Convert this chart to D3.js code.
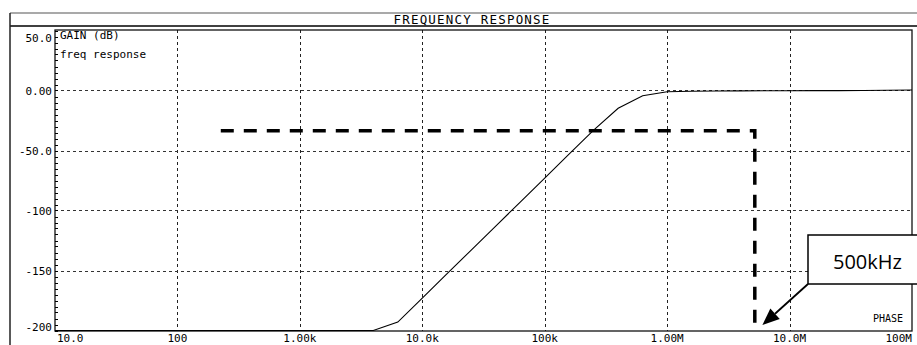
<!DOCTYPE html>
<html>
<head>
<meta charset="utf-8">
<script src="https://cdn.jsdelivr.net/npm/d3@7"></script>
<style>
  html, body { margin: 0; padding: 0; background: #fff; }
  svg { display: block; }
  .mono { font-family: "DejaVu Sans Mono", monospace; fill: #000; }
</style>
</head>
<body>
<div id="chart"></div>
<script>
// data (freq in Hz, gain in dB)
let freqs = [10, 15.8, 25.1, 39.8, 63.1, 100, 158, 251, 398, 631,
    1e3, 1.58e3, 2.51e3, 3.98e3, 6.31e3, 1e4, 1.58e4, 2.51e4, 3.98e4, 6.31e4,
    1e5, 1.58e5, 2.51e5, 3.98e5, 6.31e5, 1e6, 1.58e6, 2.51e6, 3.98e6, 6.31e6,
    1e7, 1.58e7, 2.51e7, 3.98e7, 6.31e7, 1e8];
let gains = [-200, -200, -200, -200, -200, -200, -200, -200, -200, -200,
    -200, -200, -200, -200, -193, -173, -153, -133, -113, -93,
    -73, -53, -33, -14.8, -4.3, -1.0, -0.6, -0.4, -0.3, -0.2,
    -0.2, -0.1, -0.1, 0, 0.2, 0.4];

let xTickVals = [10, 100, 1e3, 1e4, 1e5, 1e6, 1e7, 1e8];
let xTickLabels = ["10.0", "100", "1.00k", "10.0k", "100k", "1.00M", "10.0M", "100M"];
let yTickVals = [50, 0, -50, -100, -150, -200];
let yTickLabels = ["50.0", "0.00", "-50.0", "-100", "-150", "-200"];

// hand-drawn marker: dashed level line, then down to the axis
let markerFreqs = [226, 5.2e6, 5.2e6];
let markerGains = [-33.5, -33.5, -196];
let calloutText = "500kHz";
let calloutTip = [6.0e6, -195.5];

let width = 917, height = 345;
let plotL = 55, plotR = 912, plotT = 30, plotB = 331;

let svg = d3.select('#chart')
    .append('svg')
    .attr('width', width)
    .attr('height', height);

let x = d3.scaleLog().domain([10, 1e8]).range([plotL, plotR]);
let y = d3.scaleLinear().domain([-200, 50]).range([330.5, 30.5]);

// outer frame + title bar
svg.append('line')
    .attr('x1', 10).attr('x2', width).attr('y1', 13).attr('y2', 13)
    .attr('stroke', '#555').attr('stroke-width', 1.2);
svg.append('line')
    .attr('x1', 10).attr('x2', width).attr('y1', 26).attr('y2', 26)
    .attr('stroke', '#000').attr('stroke-width', 1.5);
svg.append('line')
    .attr('x1', 10).attr('x2', 10).attr('y1', 13).attr('y2', height)
    .attr('stroke', '#222').attr('stroke-width', 1.5);
svg.append('text')
    .attr('class', 'mono')
    .attr('x', 472).attr('y', 23.5)
    .attr('text-anchor', 'middle')
    .attr('font-size', 12.5)
    .attr('letter-spacing', 1.2)
    .text('FREQUENCY RESPONSE');

// grid
let grid = svg.append('g');
grid.selectAll('line.v')
    .data(xTickVals.slice(1, -1))
    .join('line')
    .attr('class', 'v')
    .attr('x1', d => Math.round(x(d)) + 0.5).attr('x2', d => Math.round(x(d)) + 0.5)
    .attr('y1', plotT).attr('y2', plotB)
    .attr('stroke', '#222').attr('stroke-width', 1)
    .attr('stroke-dasharray', '3,3');
grid.selectAll('line.h')
    .data(yTickVals.slice(1, -1))
    .join('line')
    .attr('class', 'h')
    .attr('x1', plotL).attr('x2', plotR)
    .attr('y1', d => Math.round(y(d)) + 0.5).attr('y2', d => Math.round(y(d)) + 0.5)
    .attr('stroke', '#333').attr('stroke-width', 1)
    .attr('stroke-dasharray', '3,3');

// plot frame
svg.append('rect')
    .attr('x', plotL).attr('y', plotT)
    .attr('width', plotR - plotL).attr('height', plotB - plotT)
    .attr('fill', 'none')
    .attr('stroke', '#111').attr('stroke-width', 1.3);

// minor ticks on the gain axis
svg.append('g')
    .selectAll('line')
    .data(d3.range(-200, 51, 5))
    .join('line')
    .attr('x1', plotL).attr('x2', plotL + 3)
    .attr('y1', d => Math.round(y(d)) + 0.5).attr('y2', d => Math.round(y(d)) + 0.5)
    .attr('stroke', '#000').attr('stroke-width', 1);

// y labels
svg.append('g')
    .selectAll('text')
    .data(yTickVals)
    .join('text')
    .attr('class', 'mono')
    .attr('font-size', 11)
    .attr('text-anchor', 'end')
    .attr('x', 52)
    .attr('y', d => Math.max(37.5, Math.min(327, y(d))) + 4)
    .text((d, i) => yTickLabels[i]);

// x labels
svg.append('g')
    .selectAll('text')
    .data(xTickVals)
    .join('text')
    .attr('class', 'mono')
    .attr('font-size', 11)
    .attr('text-anchor', (d, i) => i == 0 ? 'start' : (i == xTickVals.length - 1 ? 'end' : 'middle'))
    .attr('x', (d, i) => i == 0 ? x(d) + 2 : x(d))
    .attr('y', 342)
    .text((d, i) => xTickLabels[i]);

// legend texts
svg.append('text').attr('class', 'mono').attr('font-size', 11)
    .attr('x', 60).attr('y', 39).text('GAIN (dB)');
svg.append('text').attr('class', 'mono').attr('font-size', 11)
    .attr('x', 60).attr('y', 58).text('freq response');
svg.append('text').attr('class', 'mono').attr('font-size', 10)
    .attr('x', 903).attr('y', 322).attr('text-anchor', 'end').text('PHASE');

// gain curve
let line = d3.line()
    .x(d => x(d[0]))
    .y(d => y(d[1]));
svg.append('path')
    .datum(d3.zip(freqs, gains))
    .attr('d', line)
    .attr('fill', 'none')
    .attr('stroke', '#000')
    .attr('stroke-width', 1.1);

// dashed marker
svg.append('path')
    .datum(d3.zip(markerFreqs, markerGains))
    .attr('d', line)
    .attr('fill', 'none')
    .attr('stroke', '#000')
    .attr('stroke-width', 3.5)
    .attr('stroke-dasharray', '13,10');

// callout box with arrow
let boxX = 808, boxY = 235, boxW = 120, boxH = 49;
let tipX = x(calloutTip[0]), tipY = y(calloutTip[1]);
let sx = boxX, sy = boxY + boxH;
let len = Math.hypot(tipX - sx, tipY - sy);
let ux = (tipX - sx) / len, uy = (tipY - sy) / len;
let headL = 17, headW = 7;
let bx = tipX - ux * headL, by = tipY - uy * headL;

svg.append('line')
    .attr('x1', sx).attr('y1', sy)
    .attr('x2', bx).attr('y2', by)
    .attr('stroke', '#000').attr('stroke-width', 1.8);

svg.append('path')
    .attr('d', 'M' + tipX + ',' + tipY +
        'L' + (bx - uy * headW) + ',' + (by + ux * headW) +
        'L' + (bx + uy * headW) + ',' + (by - ux * headW) + 'Z')
    .attr('fill', '#000');

svg.append('rect')
    .attr('x', boxX).attr('y', boxY)
    .attr('width', boxW).attr('height', boxH)
    .attr('fill', '#fff')
    .attr('stroke', '#000').attr('stroke-width', 1.5);

svg.append('text')
    .attr('x', 833).attr('y', 269)
    .attr('font-family', '"Open Sans", "Noto Sans", sans-serif')
    .attr('font-size', 20)
    .attr('fill', '#000')
    .text(calloutText);
</script>
</body>
</html>
